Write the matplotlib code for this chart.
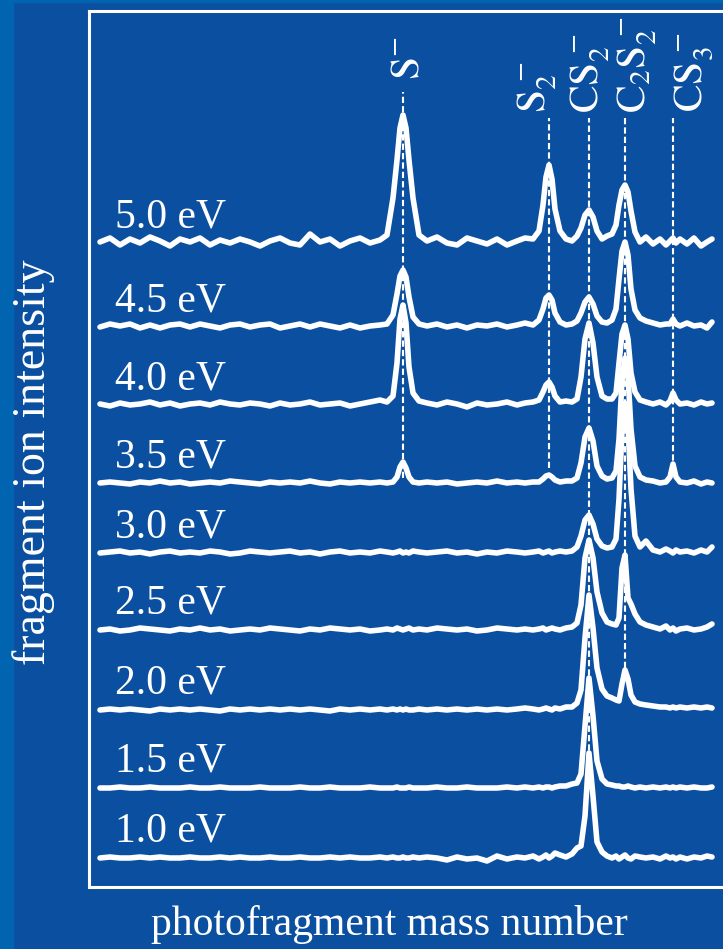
import matplotlib
matplotlib.use('Agg')
import matplotlib.pyplot as plt
from matplotlib.patches import Rectangle

plt.rcParams['font.family'] = ['Liberation Serif', 'DejaVu Serif']
plt.rcParams['mathtext.fontset'] = 'stix'

BG = '#0b50a0'
STRIP = '#0064b0'

# photon energies of the spectra, top to bottom
energies = ['5.0 eV', '4.5 eV', '4.0 eV', '3.5 eV', '3.0 eV', '2.5 eV', '2.0 eV', '1.5 eV', '1.0 eV']
# vertical offset of each spectrum (arb. units)
offsets = [644, 560, 482, 404, 334, 257, 177, 99, 29]

# fragment assignments and their mass-axis positions (arb. units)
fragments = [r'$\mathrm{S}^{-}$', r'$\mathrm{S}_2^{\,-}$', r'$\mathrm{CS}_2^{\,-}$',
             r'$\mathrm{C}_2\mathrm{S}_2^{\,-}$', r'$\mathrm{CS}_3^{\,-}$']
frag_pos = [314, 460, 500, 536, 584]
# extent of the dashed guide lines
guide_top = [795, 769, 769, 769, 769]
guide_bottom = [409, 419, 127, 219, 417]

# sampled mass axis
mass = [11, 21, 31, 41, 51, 61, 71, 81, 91, 101, 111, 121, 131, 141, 151, 161, 171, 181,
        191, 201, 211, 221, 231, 241, 251, 261, 271, 281, 291,
        298, 304, 308, 311, 314, 317, 320, 324, 330,
        338, 348, 358, 368, 378, 388, 398, 408, 418, 428, 436,
        444, 450, 454, 457, 460, 463, 466, 471, 477,
        483, 488, 492, 496, 500, 504, 508, 513, 518,
        523, 527, 530, 533, 536, 539, 542, 546, 551, 557,
        564, 571, 577,
        581, 584, 587, 591,
        598, 605, 612, 618, 623]

ev50 = [1, 5, -2, 4, 0, 6, 2, -3, 4, 1, 5, -2, 3, 0, 4, 1, -3, 2, 5, 0, -2, 9, 1, 4, -3, 2, 5, 0, 3,
        8, 45, 83, 115, 128, 115, 83, 45, 8,
        2, 6, 0, -2, 5, 2, -1, 4, -2, 2, 5,
        4, 12, 38, 66, 78, 64, 34, 12, 4,
        2, 7, 15, 28, 33, 26, 12, 4, 7,
        9, 18, 38, 53, 58, 51, 32, 11, 1, 6,
        -1, 4, -2,
        2, 5, 0, 4,
        -1, 5, -3, 1, 4]
ev45 = [0, 3, 1, 3, -1, 2, -1, 2, 3, 0, 3, 1, -1, 2, 3, 0, 2, 3, -1, 1, 3, 0, 3, 1, -1, 2, -1, 1, 2,
        3, 12, 33, 51, 57, 50, 30, 10, 3,
        1, 3, 0, 2, -1, 2, 1, 3, 0, 2, 4,
        2, 7, 18, 29, 32, 27, 14, 5, 2,
        3, 6, 14, 25, 30, 23, 11, 5, 4,
        7, 18, 48, 76, 85, 72, 38, 17, 9, 6,
        4, 2, 3,
        3, 8, 3, 1,
        4, 1, 2, -1, 5]
ev40 = [1, -1, 2, 0, 1, 3, 0, 2, -1, 1, 2, 0, 3, 1, 0, 2, 1, -1, 2, 0, 1, 3, 0, 1, 2, -1, 1, 3, 5,
        3, 9, 42, 86, 100, 82, 38, 12, 4,
        2, 0, 3, 1, -2, 2, 0, 1, 3, 0, 2,
        3, 5, 13, 20, 23, 18, 9, 3, 4,
        3, 6, 28, 66, 82, 62, 28, 9, 6,
        6, 12, 42, 71, 80, 66, 32, 13, 5, 3,
        1, 3, 0,
        4, 12, 5, 1,
        2, 0, 3, 1, 2]
ev35 = [0, 1, 0, -1, 1, 0, 2, 0, 1, -1, 0, 1, 0, 2, 1, 0, -1, 1, 0, 1, 0, 2, 0, -1, 1, 0, 1, 0, 1,
        0, 1, 6, 16, 21, 15, 6, 1, 0,
        1, 0, 1, -1, 0, 1, 0, 2, 0, 1, 0,
        1, 1, 4, 7, 8, 6, 3, 1, 2,
        2, 5, 20, 46, 55, 42, 17, 7, 4,
        5, 12, 44, 102, 125, 107, 54, 17, 6, 3,
        2, 0, 1,
        6, 19, 6, 1,
        0, 2, -1, 1, 0]
ev30 = [0, 1, 2, 0, 1, -1, 1, 2, 0, 1, 0, 2, 1, -1, 0, 2, 1, 0, 1, 2, 0, 1, -1, 1, 2, 0, 1, 0, 2,
        1, 0, 1, 2, 0, 1, 0, 2, 1,
        0, 1, 2, 0, 1, -1, 1, 0, 2, 1, 0,
        1, 2, 0, 1, 2, 0, 1, 2, 1,
        2, 6, 17, 33, 38, 29, 14, 7, 5,
        6, 14, 54, 122, 150, 127, 64, 17, 6, 12,
        3, 1, 4,
        2, 0, 3, 1,
        2, 0, 3, 1, 6]
ev25 = [0, 1, -1, 0, 2, 1, 0, -1, 1, 0, 2, 0, 1, -1, 0, 1, 0, 2, 1, 0, -1, 1, 0, 2, 1, 0, 1, -1, 0,
        1, 0, 2, 1, 0, 1, 2, 0, 1,
        0, 2, 1, 0, 1, -1, 0, 2, 1, 0, 1,
        0, 1, 2, 0, 1, 2, 1, 0, 2,
        3, 7, 25, 72, 90, 72, 38, 17, 8,
        6, 5, 12, 62, 75, 32, 26, 16, 8, 5,
        3, 1, 4,
        0, 2, -1, 1,
        2, 0, 1, 3, 6]
ev20 = [0, 1, 0, 1, 0, -1, 1, 0, 1, 0, 1, 0, -1, 1, 0, 1, 0, 1, 0, 1, 0, 1, 0, -1, 1, 0, 1, 0, 1,
        0, 1, 0, 1, 0, 1, 0, 0, 1,
        0, 1, 0, 1, 0, 1, 0, 1, 0, 1, 2,
        1, 0, 1, 2, 1, 0, 2, 1, 3,
        3, 7, 20, 72, 115, 82, 42, 21, 14,
        12, 10, 9, 26, 40, 31, 15, 8, 6, 5,
        4, 3, 3,
        2, 3, 2, 3,
        2, 3, 2, 3, 2]
ev15 = [0, 0, 1, 0, 0, 1, 0, 0, 0, 1, 0, 0, 1, 0, 0, 0, 1, 0, 0, 0, 1, 0, 0, 1, 0, 0, 0, 1, 0,
        0, 0, 1, 0, 0, 0, 1, 0, 0,
        0, 1, 0, 0, 1, 0, 0, 0, 1, 0, 1,
        0, 1, 0, 1, 1, 0, 1, 2, 2,
        4, 5, 14, 62, 110, 72, 27, 9, 4,
        3, 2, 2, 1, 1, 2, 1, 0, 1, 0,
        1, 0, 1,
        0, 1, 0, 1,
        0, 1, 0, 0, 1]
ev10 = [0, 1, 0, 0, 1, 0, 1, 0, 0, 1, 0, 0, 1, 0, 1, 0, 0, 1, 0, 0, 1, 0, 0, 1, 0, 1, 0, 0, 1,
        0, 1, 0, 0, 1, 0, 0, 1, 0,
        1, 0, -2, 1, -1, 0, -3, 2, -1, 1, 0,
        2, -1, 1, 3, 0, 2, 5, 3, 1,
        4, 10, 12, 42, 105, 62, 16, 6, 2,
        0, 2, -1, 1, 3, 0, -1, 2, 1, 0,
        1, -1, 2,
        0, 1, -1, 1,
        -1, 1, 0, 2, 1]
spectra = [ev50, ev45, ev40, ev35, ev30, ev25, ev20, ev15, ev10]

fig = plt.figure(figsize=(7.23, 9.49), dpi=100, facecolor=BG)
fig.patches.append(Rectangle((0, 0), 13 / 723, 1, transform=fig.transFigure, color=STRIP, zorder=0))
fig.patches.append(Rectangle((0, 1 - 2 / 949), 1, 2 / 949, transform=fig.transFigure, color=STRIP, zorder=0))

ax = fig.add_axes([89 / 723, 1 - 887 / 949, 651 / 723, 876 / 949])
ax.set_facecolor(BG)
ax.set_xlim(0, 651)
ax.set_ylim(0, 876)
ax.set_xticks([])
ax.set_yticks([])
for s in ax.spines.values():
    s.set_color('white')
    s.set_linewidth(2.2)

for i in range(len(spectra)):
    y = [v + offsets[i] for v in spectra[i]]
    ax.plot(mass, y, color='white', lw=4.0, solid_joinstyle='round', solid_capstyle='round', zorder=3)
    ax.text(26, offsets[i] + 16, energies[i], color='white', fontsize=30, va='baseline', ha='left')

# dashed guides and fragment labels
label_dx = [5, -12, 1, 12, 21]
label_y = [807, 774, 774, 774, 775]
for j in range(len(fragments)):
    ax.plot([frag_pos[j], frag_pos[j]], [guide_bottom[j], guide_top[j]], color='white', lw=1.5,
            dashes=(3, 1.5), zorder=4)
    ax.text(frag_pos[j] + label_dx[j], label_y[j], fragments[j], color='white', fontsize=30,
            rotation=90, ha='center', va='bottom')

fig.text(34 / 723, 1 - 462 / 949, 'fragment ion intensity', color='white', fontsize=33,
         rotation=90, ha='center', va='center')
fig.text(389 / 723, 1 - 925 / 949, 'photofragment mass number', color='white', fontsize=30,
         ha='center', va='center')

fig.savefig('out.png', dpi=100, facecolor=BG)
